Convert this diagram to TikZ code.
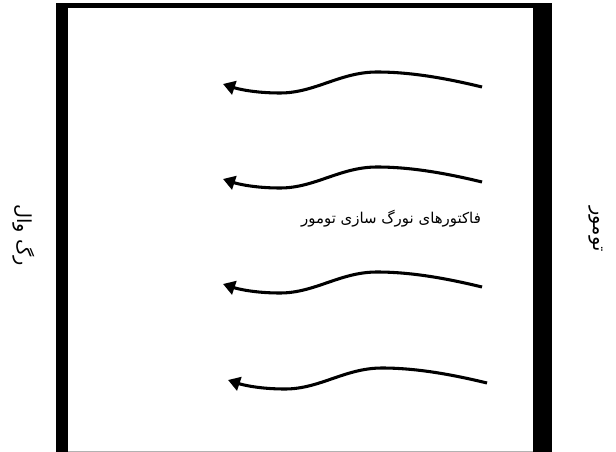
\documentclass[tikz,border=0pt]{standalone}
\usepackage{fontspec}
\newfontfamily\arabicfont[Script=Arabic]{DejaVu Sans}
\TeXXeTstate=1
\usetikzlibrary{arrows.meta}
\tikzset{
  wall/.style={fill=black, draw=none},
  lbl/.style={font=\arabicfont\fontsize{11.2}{13}\selectfont, inner sep=0pt},
  sidelbl/.style={font=\arabicfont\fontsize{14.5}{16}\selectfont, inner sep=0pt, rotate=-90},
  wavearrow/.pic={
    \draw[line width=2.3pt, -{Triangle[length=9pt,width=10.5pt]}]
      (0,0) .. controls (-37,-9) and (-72,-15) .. (-105,-15)
            .. controls (-142,-15) and (-167,6) .. (-202,6)
            .. controls (-227,6) and (-244,2) .. (-259,-3);
  }
}
\begin{document}
\begin{tikzpicture}[x=0.75pt, y=-0.75pt]
\useasboundingbox (0,0) rectangle (616,452);
% container walls
\fill[wall] (56,3.5) rectangle (68,452);
\fill[wall] (56,3.5) rectangle (551.5,8);
\fill[wall] (532.5,3.5) rectangle (551.5,452);
\draw[gray!60, line width=0.9pt] (68,451.2) -- (532.5,451.2);
% arrows
\pic at (482,87) {wavearrow};
\pic at (482,182) {wavearrow};
\pic at (482,287) {wavearrow};
\pic at (487,383) {wavearrow};
% labels
\node[lbl] (center) at (391,219) {\beginR فاکتورهای نورگ سازی تومور\endR};
\node[sidelbl] (left) at (24,235) {\beginR رگ وال\endR};
\node[sidelbl] (right) at (596,229) {\beginR تومور\endR};
\end{tikzpicture}
\end{document}
